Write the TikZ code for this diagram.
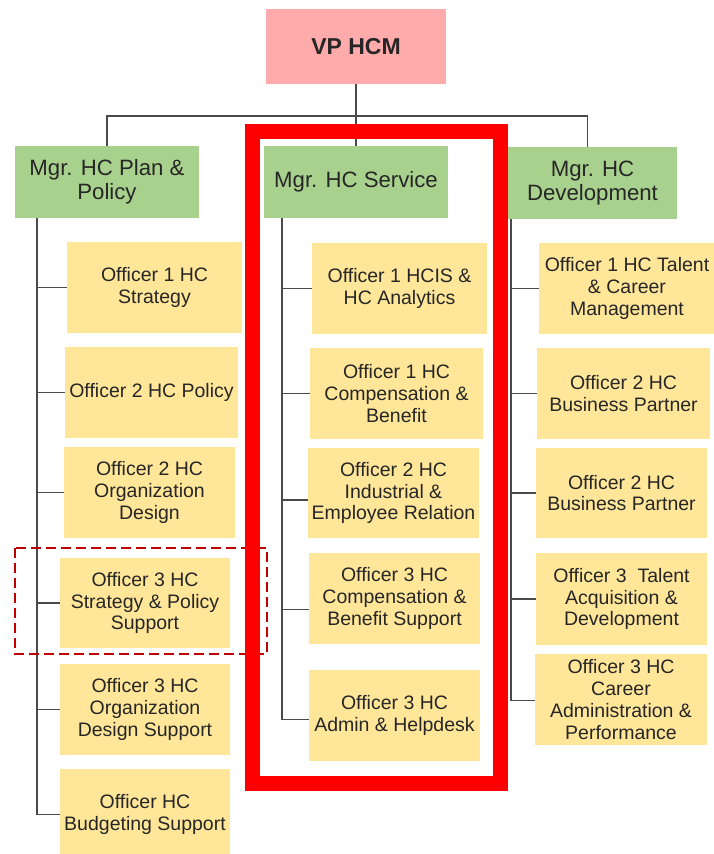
\documentclass[tikz,border=0pt]{standalone}
\usepackage{fontspec}
\setmainfont{Liberation Sans}
\definecolor{vpc}{HTML}{FFABAB}
\definecolor{mgrc}{HTML}{A9D18E}
\definecolor{offc}{HTML}{FFE699}
\definecolor{txtc}{HTML}{262626}
\definecolor{linec}{HTML}{4A4A4A}
\definecolor{dashc}{HTML}{C00000}
\definecolor{hired}{HTML}{FF0000}
\tikzset{
  basebox/.style={inner sep=0pt, outer sep=0pt, align=center, text=txtc},
  vpbox/.style={basebox, fill=vpc, font=\fontsize{23}{26}\selectfont\bfseries},
  mgrbox/.style={basebox, fill=mgrc, font=\fontsize{22.2}{24}\selectfont},
  offbox/.style={basebox, fill=offc, font=\fontsize{19.5}{21.7}\selectfont},
  conn/.style={draw=linec, line width=1.6pt},
  highlight/.style={draw=hired, line width=15pt},
  dashbox/.style={draw=dashc, line width=2pt, dash pattern=on 10pt off 5pt}
}
\begin{document}
\begin{tikzpicture}[x=1pt,y=-1pt]
\useasboundingbox (0,0) rectangle (714,854);
\fill[white] (0,0) rectangle (714,854);

% top
\node[vpbox, minimum width=180pt, minimum height=75pt] (vp) at (356,46.5) {VP HCM};
\node[mgrbox, minimum width=184pt, minimum height=72pt] (m1) at (107,182) {Mgr. HC Plan \&\\Policy};
\node[mgrbox, minimum width=184pt, minimum height=72pt] (m2) at (356,182) {Mgr. HC Service};
\node[mgrbox, minimum width=169pt, minimum height=72pt] (m3) at (592.5,183) {Mgr. HC\\Development};

% left column
\node[offbox, minimum width=175pt, minimum height=91pt] (l1) at (154.5,287.5) {Officer 1 HC\\Strategy};
\node[offbox, minimum width=173pt, minimum height=91pt] (l2) at (151.5,392.5) {Officer 2 HC Policy};
\node[offbox, minimum width=171pt, minimum height=91pt] (l3) at (149.5,492.5) {Officer 2 HC\\Organization\\Design};
\node[offbox, minimum width=170pt, minimum height=90pt] (l4) at (145,603) {Officer 3 HC\\Strategy \& Policy\\Support};
\node[offbox, minimum width=170pt, minimum height=91pt] (l5) at (145,709.5) {Officer 3 HC\\Organization\\Design Support};
\node[offbox, minimum width=170pt, minimum height=91pt] (l6) at (145,814.5) {Officer HC\\Budgeting Support};

% center column
\node[offbox, minimum width=175pt, minimum height=91pt] (c1) at (399.5,288.5) {Officer 1 HCIS \&\\HC Analytics};
\node[offbox, minimum width=173pt, minimum height=91pt] (c2) at (396.5,393.5) {Officer 1 HC\\Compensation \&\\Benefit};
\node[offbox, minimum width=171pt, minimum height=90pt] (c3) at (393.5,493) {Officer 2 HC\\Industrial \&\\Employee Relation};
\node[offbox, minimum width=171pt, minimum height=91pt] (c4) at (394.5,598.5) {Officer 3 HC\\Compensation \&\\Benefit Support};
\node[offbox, minimum width=171pt, minimum height=91pt] (c5) at (394.5,715.5) {Officer 3 HC\\Admin \& Helpdesk};

% right column
\node[offbox, minimum width=176pt, minimum height=91pt] (r1) at (627,288.5) {Officer 1 HC Talent\\\& Career\\Management};
\node[offbox, minimum width=173pt, minimum height=91pt] (r2) at (623.5,393.5) {Officer 2 HC\\Business Partner};
\node[offbox, minimum width=171pt, minimum height=90pt] (r3) at (621.5,493) {Officer 2 HC\\Business Partner};
\node[offbox, minimum width=171pt, minimum height=92pt] (r4) at (621.5,599) {Officer 3 \ Talent\\Acquisition \&\\Development};
\node[offbox, minimum width=172pt, minimum height=91pt] (r5) at (621,699.5) {Officer 3 HC\\Career\\Administration \&\\Performance};

% branch points
\coordinate (c3w) at ([yshift=-7pt]c3.west);
\coordinate (c4w) at ([yshift=-11pt]c4.west);
\coordinate (c5w) at ([yshift=-4pt]c5.west);
\coordinate (r5w) at ([yshift=-1pt]r5.west);

% top connectors
\draw[conn] (vp.south) -- (m2.north);
\draw[conn] (m1.north) -- ++(0,-30) coordinate (busl) -| ([xshift=-5pt]m3.north);

% left spine
\coordinate (sl) at ([xshift=22pt]m1.south west);
\draw[conn] (sl) -- (sl |- l6.west);
\draw[conn] (sl |- l1.west) -- (l1.west);
\draw[conn] (sl |- l2.west) -- (l2.west);
\draw[conn] (sl |- l3.west) -- (l3.west);
\draw[conn] (sl |- l4.west) -- (l4.west);
\draw[conn] (sl |- l5.west) -- (l5.west);
\draw[conn] (sl |- l6.west) -- (l6.west);

% center spine
\coordinate (sc) at ([xshift=18pt]m2.south west);
\draw[conn] (sc) -- (sc |- c5w);
\draw[conn] (sc |- c1.west) -- (c1.west);
\draw[conn] (sc |- c2.west) -- (c2.west);
\draw[conn] (sc |- c3w) -- (c3w);
\draw[conn] (sc |- c4w) -- (c4w);
\draw[conn] (sc |- c5w) -- (c5w);

% right spine
\coordinate (sr) at ([xshift=3pt]m3.south west);
\draw[conn] (sr) -- (sr |- r5w);
\draw[conn] (sr |- r1.west) -- (r1.west);
\draw[conn] (sr |- r2.west) -- (r2.west);
\draw[conn] (sr |- r3.west) -- (r3.west);
\draw[conn] (sr |- r4.west) -- (r4.west);
\draw[conn] (sr |- r5w) -- (r5w);

% dashed highlight
\draw[dashbox] (15,548) rectangle (267,654);
% red highlight
\draw[highlight] (252.5,131) rectangle (500,783);
\end{tikzpicture}
\end{document}
